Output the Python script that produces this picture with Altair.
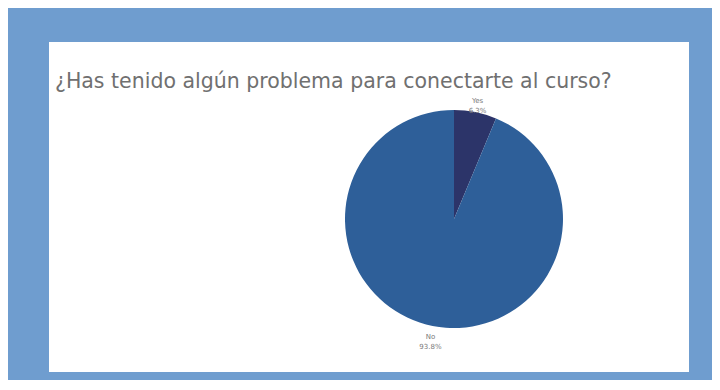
import altair as alt
import pandas as pd

title_text = "¿Has tenido algún problema para conectarte al curso?"
categories = ["Yes", "No"]
shares = [6.3, 93.8]
pct_labels = ["6.3%", "93.8%"]
slice_order = [0, 1]
colors = ["#2c3469", "#2e5f99"]

df = pd.DataFrame({"cat": categories, "share": shares, "pct": pct_labels, "order": slice_order})

CX, CY = 405, 177

base = alt.Chart(df).encode(
    theta=alt.Theta("share:Q", stack=True),
    order=alt.Order("order:Q"),
)

pie = base.mark_arc(radius=109, strokeWidth=0).encode(
    color=alt.Color("cat:N", scale=alt.Scale(domain=categories, range=colors), legend=None),
    x=alt.value(CX),
    y=alt.value(CY),
)

labels = base.transform_calculate(
    label="datum.cat + '\\n' + datum.pct"
).mark_text(
    radius=120, fontSize=7, color="#7a7a7a", lineBreak="\n", font="DejaVu Sans",
    align="center", baseline="middle", lineHeight=10,
).encode(
    text="label:N",
    x=alt.value(CX),
    y=alt.value(CY),
)

title = alt.Chart(pd.DataFrame({"t": [title_text]})).mark_text(
    align="left", baseline="alphabetic", fontSize=20.5, color="#707070", font="DejaVu Sans",
).encode(
    text="t:N",
    x=alt.value(6),
    y=alt.value(46),
)

chart = alt.layer(pie, labels, title).properties(
    width=640,
    height=330,
    padding={"left": 41, "top": 34, "right": 23, "bottom": 8},
    background="#6f9dcf",
).configure_view(fill="white", stroke=None)

chart.save("out.html", embed_options={"renderer": "svg", "actions": False})
